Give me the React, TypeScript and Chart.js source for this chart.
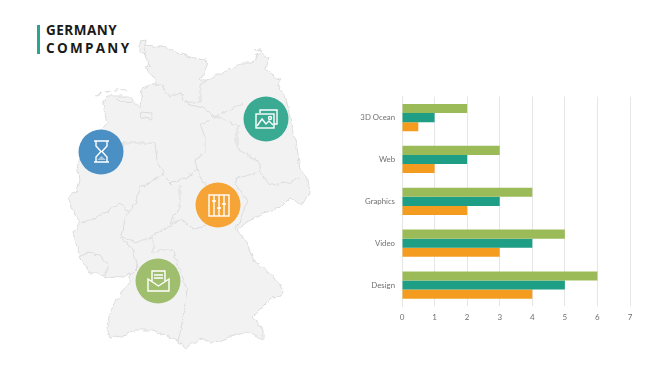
import React, { useEffect, useRef } from "react";
import { Chart, registerables } from "chart.js";

Chart.register(...registerables);

const categories = ["3D Ocean", "Web", "Graphics", "Video", "Design"];
const seriesA = [2, 3, 4, 5, 6];
const seriesB = [1, 2, 3, 4, 5];
const seriesC = [0.5, 1, 2, 3, 4];

const GREEN = "#9BBB59";
const TEAL = "#1E9E84";
const ORANGE = "#F39C1F";

const outline =
  "M143,45 L155,46 L167,48 L178,53 L190,57 L203,60 L208,63 L205,70 L200,80 L208,80 L217,75 L233,68 L240,63 L252,63 L257,55 L262,53 L268,58 L265,68 L272,75 L280,80 L278,85 L285,95 L288,107 L290,118 L293,133 L297,147 L300,170 L307,178 L309,193 L302,205 L290,198 L280,208 L263,213 L247,222 L237,230 L245,240 L247,243 L253,260 L270,273 L283,290 L282,297 L272,298 L253,317 L263,330 L263,340 L247,332 L230,337 L213,343 L200,338 L187,348 L178,342 L165,335 L150,330 L135,330 L127,335 L110,338 L107,327 L110,313 L117,300 L130,282 L130,273 L123,278 L107,277 L97,273 L90,273 L80,257 L77,247 L73,233 L80,223 L73,210 L68,197 L75,192 L80,180 L77,165 L85,150 L107,123 L103,105 L107,96 L130,96 L135,103 L140,107 L142,88 L150,85 L157,85 L153,78 L145,67 L150,65 L145,55 Z";

const borders = [
  "M152,85 L162,85 L170,97 L180,92 L183,102 L190,105 L203,108 L215,117 L223,113 L243,103",
  "M183,102 L200,102 L200,85 L208,80",
  "M217,117 L200,125 L205,137 L205,153 L195,160 L197,170 L187,177 L170,183 L173,185",
  "M217,117 L237,125 L237,147 L260,163 L260,172 L237,178 L235,185",
  "M260,172 L270,185 L287,183 L300,178",
  "M235,182 L240,192 L247,200 L242,215 L235,230",
  "M197,170 L203,180 L208,190",
  "M180,185 L180,207 L170,223 L180,220 L195,230 L205,226",
  "M180,220 L153,235 L153,253 L162,250 L172,250 L180,270 L187,290 L183,317 L180,333 L178,342",
  "M120,155 L123,143 L135,143 L155,143 L157,160 L165,177 L173,185",
  "M165,173 L140,188 L135,203 L125,218 L122,237 L135,243 L152,237",
  "M80,223 L98,217 L113,208 L120,203 L125,208 L128,213",
  "M78,257 L88,253 L100,255 L108,265 L105,275",
  "M120,238 L132,247 L138,267 L130,275",
  "M115,100 L125,102 L133,103",
  "M140,112 L152,113 L152,119 L142,118 Z",
];

const islands = [
  "M140,42 L146,41 L144,48 L146,55 L140,53 Z",
  "M95,95 L101,93",
  "M104,92 L110,91",
  "M113,90 L119,90",
  "M121,90 L126,91",
  "M203,60 L206,58",
  "M253,50 L260,49 L262,53",
];

function HourglassIcon() {
  return (
    <g fill="none" stroke="#fff" strokeWidth="1.4">
      <path d="M94,141 H109 M94,162 H109" />
      <path d="M96,141 V146 L101,151.5 L96,157 V162 M107,141 V146 L102,151.5 L107,157 V162" />
      <path d="M97,160 L101.5,156 L106,160 Z" fill="#fff" fillOpacity="0.5" stroke="none" />
    </g>
  );
}

function PictureIcon() {
  return (
    <g fill="none" stroke="#fff" strokeWidth="1.4">
      <path d="M260,113 V110 H277 V124 H274" />
      <rect x="256" y="114" width="18" height="14" />
      <path d="M257,126 L262,119 L266,124 L269,121 L273,125" />
      <circle cx="270" cy="118" r="1.5" />
    </g>
  );
}

function SlidersIcon() {
  return (
    <g fill="none" stroke="#fff" strokeWidth="1.4">
      <rect x="209" y="195" width="20" height="21" />
      <path d="M214,195 V216 M219,195 V216 M224,195 V216" />
      <path d="M212,201 H216 M217,208 H221 M222,204 H226" />
    </g>
  );
}

function MailIcon() {
  return (
    <g fill="none" stroke="#fff" strokeWidth="1.4">
      <path d="M148,279 V291 H169 V279 L158.5,286 Z" />
      <path d="M152,281 V271 H165 V281" />
      <path d="M154,275 H163 M154,278 H163" />
    </g>
  );
}

const circles = [
  { cx: 266, cy: 119, fill: "#3BAA93" },
  { cx: 101, cy: 152, fill: "#4A90C4" },
  { cx: 218, cy: 205, fill: "#F5A435" },
  { cx: 158, cy: 281, fill: "#A0BF6E" },
];

export default function App() {
  const ref = useRef<HTMLCanvasElement | null>(null);

  useEffect(() => {
    if (!ref.current) return;
    const chart = new Chart(ref.current, {
      type: "bar",
      data: {
        labels: categories,
        datasets: [
          { label: "Series 1", data: seriesA, backgroundColor: GREEN },
          { label: "Series 2", data: seriesB, backgroundColor: TEAL },
          { label: "Series 3", data: seriesC, backgroundColor: ORANGE },
        ],
      },
      options: {
        indexAxis: "y",
        animation: false,
        responsive: false,
        layout: { padding: { top: 2, right: 20, bottom: 0, left: 0 } },
        plugins: { legend: { display: false }, tooltip: { enabled: false } },
        datasets: { bar: { barPercentage: 1, categoryPercentage: 0.65 } },
        scales: {
          x: {
            min: 0,
            max: 7,
            afterFit: (s: any) => {
              s.height = 24;
            },
            ticks: {
              stepSize: 1,
              color: "#707070",
              padding: 7,
              font: { family: "Lato", size: 8 },
            },
            grid: { color: "#E6E6E6", drawTicks: false },
            border: { display: false },
          },
          y: {
            afterFit: (s: any) => {
              s.width = 62;
            },
            ticks: {
              color: "#707070",
              padding: 7,
              font: { family: "Lato", size: 7.8 },
            },
            grid: { display: false, drawTicks: false },
            border: { color: "#E6E6E6" },
          },
        },
      },
    });
    return () => chart.destroy();
  }, []);

  return (
    <div style={{ position: "fixed", left: 0, top: 0, width: 668, height: 376, background: "#fff", overflow: "hidden" }}>
      <svg width={668} height={376} style={{ position: "absolute", left: 0, top: 0 }}>
        <defs>
          <filter id="wiggle" x="0" y="0" width="100%" height="100%" filterUnits="userSpaceOnUse" primitiveUnits="userSpaceOnUse">
            <feTurbulence type="fractalNoise" baseFrequency="0.16" numOctaves="2" seed="4" result="n" />
            <feDisplacementMap in="SourceGraphic" in2="n" scale="5" xChannelSelector="R" yChannelSelector="G" />
          </filter>
        </defs>
        <g filter="url(#wiggle)">
          <path d={outline} fill="#F2F2F3" stroke="#DCDCDE" strokeWidth="1" strokeLinejoin="round" />
          {borders.map((d, i) => (
            <path key={i} d={d} fill="none" stroke="#DCDCDE" strokeWidth="1" strokeLinejoin="round" />
          ))}
          {islands.map((d, i) => (
            <path key={i} d={d} fill="#F2F2F3" stroke="#DCDCDE" strokeWidth="1" />
          ))}
        </g>
        {circles.map((c, i) => (
          <circle key={i} cx={c.cx} cy={c.cy} r={22.5} fill={c.fill} />
        ))}
        <HourglassIcon />
        <PictureIcon />
        <SlidersIcon />
        <MailIcon />
      </svg>
      <div style={{ position: "absolute", left: 37, top: 25, width: 2.5, height: 29, background: "#2BA58F" }} />
      <div style={{ position: "absolute", left: 46, top: 21, fontFamily: "'Open Sans'", fontWeight: 700, fontSize: 13.5, lineHeight: "18px", letterSpacing: 0.5, color: "#1a1a1a", whiteSpace: "nowrap" }}>
        GERMANY
      </div>
      <div style={{ position: "absolute", left: 46, top: 39, fontFamily: "'Open Sans'", fontWeight: 700, fontSize: 13.5, lineHeight: "18px", letterSpacing: 2.3, color: "#1a1a1a", whiteSpace: "nowrap" }}>
        COMPANY
      </div>
      <canvas ref={ref} width={310} height={245} style={{ position: "absolute", left: 340, top: 85, width: 310, height: 245 }} />
    </div>
  );
}
